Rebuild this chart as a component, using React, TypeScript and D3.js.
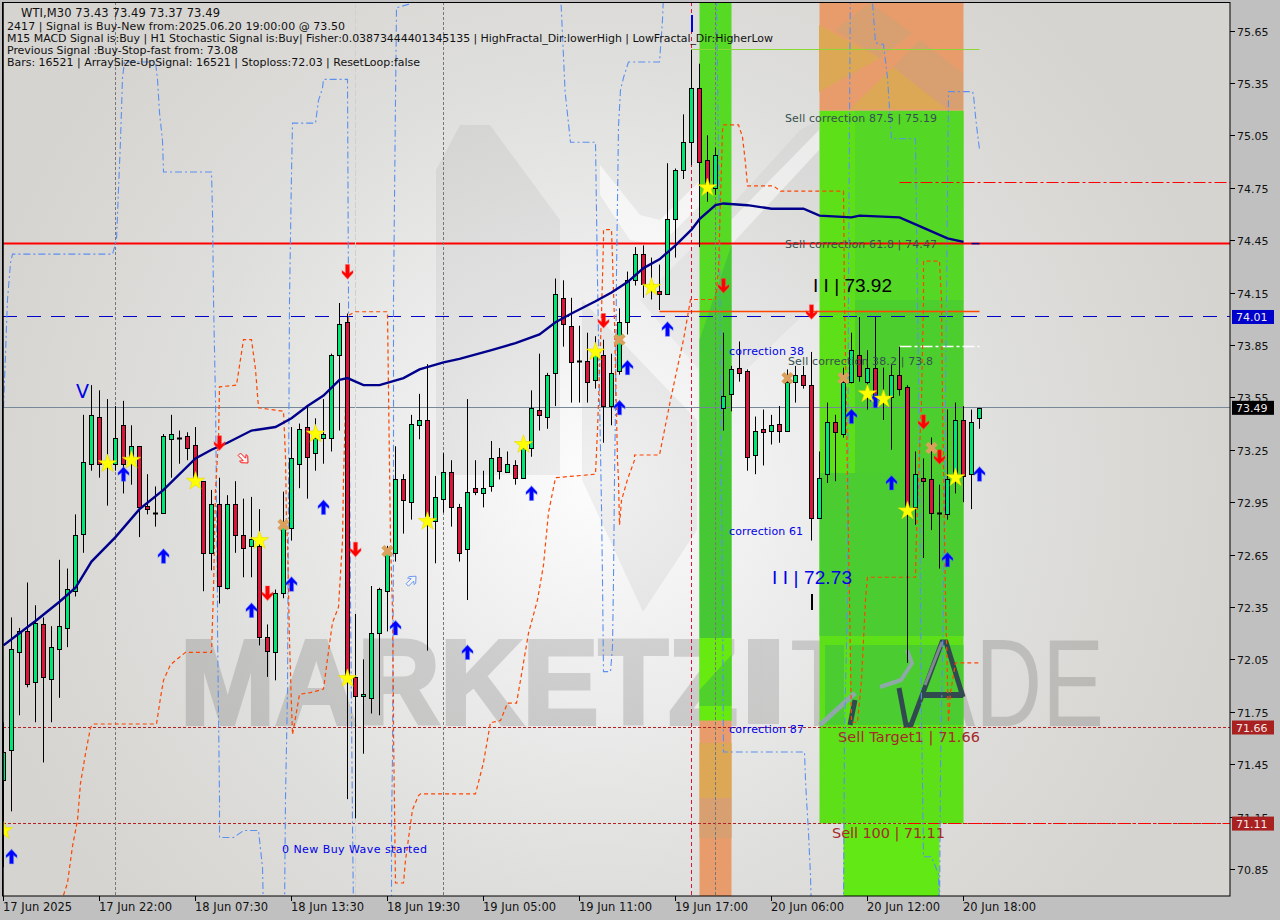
import * as d3 from "d3";

// candle data, one entry per M30 bar
const opens = [
	71.36, 71.53, 72.09, 72.21, 71.92, 72.25, 71.94, 72.11, 72.23, 72.44,
	72.77, 73.17, 73.44, 73.16, 73.17, 73.39, 73.19, 73.27, 72.93, 72.89,
	72.89, 73.31, 73.32, 73.33, 73.28, 73.07, 72.66, 72.94, 72.46, 72.94,
	72.76, 72.7, 72.7, 72.18, 72.09, 72.43, 72.8, 73.17, 73.38, 73.23,
	73.32, 73.32, 73.79, 73.98, 71.95, 71.84, 71.83, 72.2, 72.44, 72.66,
	73.08, 72.95, 73.39, 73.42, 72.84, 72.97, 73.12, 72.92, 72.68, 73.03,
	73.0, 73.04, 73.21, 73.12, 73.16, 73.09, 73.26, 73.48, 73.44, 73.69,
	74.12, 73.96, 73.76, 73.76, 73.65, 73.79, 73.5, 73.7, 73.98, 74.22,
	74.37, 74.17, 74.16, 74.14, 74.57, 74.85, 75.01, 75.32, 74.91, 74.75,
	73.49, 73.57, 73.72, 73.7, 73.22, 73.37, 73.36, 73.4, 73.36, 73.64,
	73.68, 73.62, 72.86, 73.11, 73.41, 73.34, 73.64, 73.79, 73.64, 73.72,
	73.54, 73.55, 73.68, 73.61, 72.92, 73.09, 73.08, 72.89, 72.88, 73.09,
	73.42, 73.11, 73.43,
];
const closes = [
	71.52, 72.11, 72.21, 71.91, 72.26, 71.95, 72.12, 72.24, 72.45, 72.76,
	73.18, 73.45, 73.17, 73.18, 73.32, 73.17, 73.27, 72.92, 72.91, 72.89,
	73.33, 73.34, 73.32, 73.26, 73.08, 72.66, 72.94, 72.47, 72.94, 72.76,
	72.69, 72.74, 72.18, 72.1, 72.43, 72.82, 73.2, 73.37, 73.21, 73.32,
	73.34, 73.79, 73.97, 71.94, 71.84, 71.85, 72.2, 72.45, 72.66, 73.08,
	72.96, 73.4, 73.42, 72.87, 72.98, 73.12, 72.92, 72.66, 73.01, 73.01,
	73.03, 73.2, 73.13, 73.17, 73.09, 73.26, 73.49, 73.45, 73.68, 74.14,
	73.97, 73.75, 73.76, 73.64, 73.81, 73.5, 73.69, 73.98, 74.22, 74.37,
	74.2, 74.2, 74.14, 74.57, 74.85, 75.01, 75.32, 74.9, 74.75, 74.94,
	73.56, 73.71, 73.69, 73.21, 73.36, 73.35, 73.39, 73.36, 73.64, 73.68,
	73.62, 72.86, 73.09, 73.41, 73.35, 73.64, 73.82, 73.67, 73.72, 73.56,
	73.55, 73.68, 73.6, 72.91, 73.11, 73.07, 72.89, 72.88, 73.08, 73.42,
	73.1, 73.41, 73.49,
];
const highs = [
	71.69, 72.29, 72.23, 72.49, 72.36, 72.29, 72.24, 72.62, 72.57, 72.88,
	73.45, 73.62, 73.59, 73.54, 73.5, 73.53, 73.39, 73.27, 73.11, 73.04,
	73.34, 73.45, 73.36, 73.35, 73.38, 73.07, 73.02, 73.09, 72.99, 73.07,
	72.97, 72.98, 72.91, 72.25, 72.45, 73.01, 73.38, 73.4, 73.5, 73.43,
	73.54, 73.8, 74.09, 74.03, 72.31, 72.05, 72.47, 72.46, 72.7, 73.27,
	73.11, 73.45, 73.57, 73.74, 73.1, 73.23, 73.19, 72.94, 73.54, 73.19,
	73.13, 73.3, 73.26, 73.24, 73.19, 73.31, 73.59, 73.8, 73.69, 74.23,
	74.22, 74.12, 73.96, 73.92, 73.9, 73.88, 73.8, 74.06, 74.27, 74.41,
	74.42, 74.35, 74.31, 74.89, 74.86, 75.17, 75.54, 75.46, 75.05, 74.98,
	73.92, 73.73, 73.87, 73.71, 73.44, 73.48, 73.45, 73.5, 73.71, 73.73,
	73.73, 73.81, 73.24, 73.52, 73.45, 73.72, 73.92, 74.01, 73.82, 74.01,
	73.72, 73.74, 73.84, 73.62, 73.24, 73.2, 73.32, 73.05, 73.48, 73.52,
	73.5, 73.48, 73.49,
];
const lows = [
	70.86, 71.18, 71.73, 71.89, 71.69, 71.46, 71.69, 71.83, 72.12, 72.41,
	72.66, 73.13, 73.09, 72.93, 73.13, 73.0, 73.05, 72.75, 72.88, 72.81,
	72.89, 73.09, 73.17, 73.19, 73.08, 72.44, 72.56, 72.37, 72.45, 72.66,
	72.52, 72.52, 72.13, 71.95, 71.93, 72.4, 72.73, 73.03, 72.97, 73.13,
	73.17, 73.24, 73.36, 71.25, 71.14, 71.51, 71.74, 71.73, 72.21, 72.61,
	72.77, 72.85, 73.31, 72.1, 72.6, 72.89, 72.81, 72.61, 72.39, 72.99,
	72.92, 73.01, 73.08, 73.12, 73.05, 73.09, 73.21, 73.36, 73.37, 73.5,
	73.84, 73.52, 73.52, 73.52, 73.6, 73.29, 73.39, 73.68, 73.91, 74.19,
	74.12, 74.11, 74.05, 74.14, 74.35, 74.8, 74.88, 74.41, 74.67, 74.71,
	73.36, 73.47, 73.64, 73.13, 73.11, 73.16, 73.28, 73.29, 73.36, 73.52,
	73.6, 72.73, 72.86, 73.06, 73.07, 73.32, 73.63, 73.64, 73.48, 73.54,
	73.42, 73.25, 73.56, 72.03, 72.82, 72.63, 72.79, 72.57, 72.85, 73.0,
	72.95, 72.91, 73.37,
];

// moving average, read at [bar, price]
const maLine: [number, number][] = [
	[0, 72.13], [4, 72.27], [7, 72.38], [9, 72.46], [11, 72.61], [14, 72.75], [17, 72.91],
	[20, 73.02], [24, 73.2], [26, 73.25], [28, 73.29], [31, 73.36], [34, 73.38], [36, 73.43],
	[38, 73.5], [40, 73.56], [42, 73.65], [43, 73.66], [45, 73.62], [47, 73.62], [50, 73.66],
	[52, 73.71], [55, 73.75], [57, 73.77], [61, 73.82], [64, 73.86], [67, 73.91], [69, 73.98],
	[71, 74.03], [74, 74.1], [76, 74.15], [78, 74.21], [80, 74.29], [82, 74.34], [84, 74.42],
	[86, 74.51], [87, 74.57], [89, 74.65], [90, 74.66], [93, 74.65], [96, 74.63], [99, 74.63],
	[100, 74.63], [102, 74.59], [106, 74.58], [107, 74.59], [112, 74.58], [114, 74.54],
	[118, 74.46], [120, 74.44],
];
const maStub: [number, number][] = [[121, 74.43], [122, 74.43]];

// blue stepped band, goes off the chart top and bottom
const upperBand: [number, number][] = [
	[0, 73.49], [0.5, 74.11], [0.875, 74.32], [1.125, 74.37], [13.625, 74.37], [14.125, 74.45],
	[14.375, 74.74], [14.625, 75.02], [14.875, 75.38], [15.125, 75.47], [19, 75.47], [19.25, 75.37],
	[19.5, 75.18], [19.875, 75.02], [20, 74.84], [26, 74.84], [26.125, 74.61], [26.25, 74.11],
	[26.5, 73.535], [26.75, 72.39], [26.75, 72.22], [26.875, 71.74], [27, 71.26], [27, 71.03],
	[28.75, 71.03], [30, 71.07], [31.875, 71.07], [32.375, 70.86], [32.5, 70.6], [35.125, 70.6],
	[35.25, 71.26], [35.5, 71.86], [35.75, 74.11], [36, 74.83], [36.125, 75.12], [39, 75.12],
	[39.375, 75.25], [39.875, 75.32], [40, 75.37], [43, 75.37], [43.125, 74.11], [43.375, 72.39],
	[43.625, 71.11], [43.75, 70.6], [48.5, 70.6], [48.5, 71.09], [48.625, 71.49], [48.75, 72.73],
	[48.75, 74.11], [49, 75.25], [49.125, 75.78], [50.625, 75.8], [51, 76], [69.5, 76], [70.2, 75.3],
	[70.875, 75.01], [74, 75.01], [74.25, 74.22], [74.75, 72.92], [74.875, 72.5], [75, 71.98],
	[75.875, 71.98], [76.125, 72.12], [76.25, 72.5], [76.375, 73.08], [76.5, 73.5], [76.625, 74.26],
	[76.875, 75.1], [77.125, 75.31], [77.5, 75.38], [78.125, 75.47], [82, 75.47], [82.375, 75.71],
	[82.625, 76], [89, 76], [89.125, 75.81], [89.5, 74.56], [89.625, 73.535], [89.875, 72.39],
	[90, 71.52], [100.125, 71.52], [100.25, 71.36], [100.375, 71.25], [100.625, 71.06],
	[100.875, 70.81], [101, 70.6], [105, 70.6], [105.125, 71.63], [105.5, 72.39], [105.625, 74.22],
	[105.875, 76], [108.5, 76], [108.625, 75.81], [109, 75.58], [110, 75.57], [110.5, 75.38],
	[111, 75.03], [114, 75.03], [114.25, 74.11], [114.5, 73.25], [114.625, 72.39], [114.75, 71.74],
	[115, 70.92], [116, 70.92], [116.875, 70.82], [117, 70.6], [117.125, 71.43], [117.5, 72.39],
	[117.875, 74.11], [118.125, 75.3], [121.125, 75.3], [121.25, 75.28], [121.5, 75.16],
	[121.75, 75.06], [122, 74.97],
];

// orange stepped band
const lowerBand: [number, number][] = [
	[7.5, 70.7], [8, 70.77], [8.625, 70.98], [9.25, 71.13], [9.625, 71.34], [10.25, 71.51],
	[10.875, 71.66], [11.25, 71.68], [19.125, 71.68], [19.625, 71.83], [20, 71.93], [20.875, 72.02],
	[22.75, 72.09], [26, 72.09], [26.25, 72.45], [26.5, 73.02], [26.875, 73.31], [27, 73.61],
	[29.125, 73.62], [30, 73.88], [31, 73.88], [31.5, 73.71], [31.875, 73.49], [35, 73.47],
	[35.25, 73.21], [35.375, 72.83], [35.5, 72.73], [35.75, 72.16], [36, 71.78], [36.125, 71.62],
	[36.25, 71.65], [37, 71.85], [38.375, 71.86], [40, 71.88], [40.375, 72.01], [40.875, 72.18],
	[41.125, 72.26], [41.875, 72.35], [42.375, 72.73], [42.5, 73.08], [42.75, 73.5], [43.125, 74.02],
	[44, 74.04], [48, 74.04], [48.125, 73.59], [48.375, 72.73], [48.625, 72.33], [48.75, 71.78],
	[48.75, 71.63], [49, 70.77], [50, 70.77], [50.25, 70.9], [51.125, 71.19], [51.875, 71.27],
	[52.125, 71.28], [59, 71.28], [60, 71.46], [60.875, 71.69], [61.125, 71.69], [62.125, 71.7],
	[63, 71.8], [64.125, 71.8], [64.625, 71.93], [65.625, 72.2], [66.75, 72.39], [67.5, 72.59],
	[68.125, 72.89], [69, 73.09], [74, 73.11], [74.25, 73.36], [74.75, 74.03], [75, 74.45],
	[75, 74.51], [76, 74.51], [76.125, 74.34], [76.375, 73.98], [76.75, 73.19], [76.875, 73.08],
	[77, 72.82], [77.25, 72.96], [78, 73.08], [78.875, 73.19], [78.875, 73.22], [82, 73.22],
	[83.375, 73.535], [84.375, 73.75], [85, 73.88], [85.875, 74.11], [86, 74.11], [89, 74.11],
	[89.375, 74.28], [89.625, 74.68], [89.875, 75.08], [90, 75.11], [91.875, 75.11], [92.375, 75.04],
	[92.75, 74.89], [93, 74.76], [96.25, 74.76], [97.125, 74.73], [105, 74.73], [105.125, 74.11],
	[105.75, 72.39], [106, 71.69], [106.75, 71.69], [107.25, 71.93], [107.75, 72.39], [108, 72.52],
	[114, 72.52], [114.125, 72.77], [114.75, 73.535], [115, 74.11], [115, 74.33], [117, 74.33],
	[117.25, 74.11], [117.375, 73.535], [117.75, 72.39], [118.125, 71.69], [118.375, 71.86],
	[119, 72.03], [122, 72.03],
];

// signal marks as [bar, price]
const buyArrows: [number, number][] = [
	[1, 70.92], [15, 73.11], [20, 72.64], [31, 72.33], [36, 72.48], [40, 72.92], [49, 72.23],
	[58, 72.09], [66, 73.0], [77, 73.49], [78, 73.72], [83, 73.94], [106, 73.44], [109, 73.53],
	[111, 73.06], [118, 72.62], [122, 73.11],
];
const sellArrows: [number, number][] = [
	[27, 73.29], [43, 74.27], [33, 72.43], [44, 72.68], [75, 73.99], [90, 74.19], [101, 74.04],
	[115, 73.41], [117, 73.21],
];
const stars: [number, number][] = [
	[0, 71.07], [13, 73.17], [16, 73.19], [24, 73.07], [32, 72.73], [39, 73.34], [43, 71.94],
	[53, 72.84], [65, 73.28], [74, 73.81], [81, 74.18], [88, 74.75], [108, 73.57], [110, 73.54],
	[113, 72.9], [119, 73.09],
];
const crosses: [number, number][] = [
	[35, 72.82], [48, 72.67], [77, 73.88], [98, 73.66], [105, 73.66], [116, 73.26],
];

const priceTicks = [
	"75.65", "75.35", "75.05", "74.75", "74.45", "74.15", "73.85", "73.55", "73.25",
	"72.95", "72.65", "72.35", "72.05", "71.75", "71.45", "71.15", "70.85",
];
const timeTicks = [
	"17 Jun 2025", "17 Jun 22:00", "18 Jun 07:30", "18 Jun 13:30", "18 Jun 19:30", "19 Jun 05:00",
	"19 Jun 11:00", "19 Jun 17:00", "20 Jun 06:00", "20 Jun 12:00", "20 Jun 18:00",
];
const headerLines = [
	"2417 | Signal is Buy-New from:2025.06.20 19:00:00 @ 73.50",
	"M15 MACD Signal is:Buy | H1 Stochastic Signal is:Buy| Fisher:0.03873444401345135 | HighFractal_Dir:lowerHigh | LowFractal_Dir:HigherLow",
	"Previous Signal :Buy-Stop-fast from: 73.08",
	"Bars: 16521 | ArraySize-UpSignal: 16521 | Stoploss:72.03 | ResetLoop:false",
];
const headerWidths = [338, 766, 231, 413];
const priceBadges: [string, number, string][] = [
	["74.01", 74.01, "#0000cd"],
	["73.49", 73.49, "#000000"],
	["71.66", 71.66, "#a82020"],
	["71.11", 71.11, "#a82020"],
];

const W = 1280;
const H = 920;
const left = 3;
const right = 1230;
const top = 2;
const bottom = 896;

const x = d3.scaleLinear().domain([0, 122]).range([3.5, 979.5]);
const y = d3.scaleLinear().domain([75.65, 70.85]).range([30.5, 869]);
// horizontal levels sit on whole pixels like the terminal draws them
const snapY = (p: number) => Math.floor(y(p)) + 0.5;

const pairLine = d3
	.line<[number, number]>()
	.x((d) => x(d[0]))
	.y((d) => y(d[1]));

const starPath = d3.symbol(d3.symbolStar, 105)() as string;
const crossPath = d3.symbol(d3.symbolCross, 95)() as string;
const arrowPath = "M0,-7.5 L5.5,-1.5 L5.5,1 L2,-1.5 L2,7 L-2,7 L-2,-1.5 L-5.5,1 L-5.5,-1.5Z";

const GREEN = "#00e676";
const RED = "#dc143c";
const LABEL_FONT = "'DejaVu Sans', sans-serif";
const BIG_FONT = "'Liberation Sans', sans-serif";
const BLUE_TEXT = "#0000e6";
const SLATE = "#36504f";
const BRICK = "#a52a2a";

const bandTop = y(75.19);
const bandBottom = y(71.11);
const fillTop = top;

function Background() {
	return (
		<g>
			<rect x={left} y={top} width={right - left} height={bottom - top} fill="url(#bg)" />
			{/* big check mark behind the candles */}
			<polygon points="436,170 460,125 490,125 560,220 560,475 436,475" fill="rgba(0,0,0,0.05)" />
			<polygon points="582,300 582,480 643,612 697,530 697,420" fill="rgba(0,0,0,0.05)" />
			<polygon points="640,300 700,240 800,130 819,120 819,300 720,395" fill="rgba(0,0,0,0.03)" />
			<polygon points="600,165 640,215 660,220 731,150 731,175 660,245 630,240 600,195" fill="rgba(255,255,255,0.6)" />
			<polygon points="731,220 819,130 819,150 731,245" fill="rgba(255,255,255,0.5)" />
			<g opacity={0.13}>
				<text x={180} y={724} fontFamily={BIG_FONT} fontWeight="bold" fontSize={120} fill="#000" stroke="#000" strokeWidth={4} textLength={558} lengthAdjust="spacingAndGlyphs">
					MARKETZ
				</text>
				<rect x={748} y={639} width={31} height={85} fill="#000" />
			</g>
			<text x={790} y={726} fontFamily={BIG_FONT} fontSize={124} fill="rgba(0,0,0,0.14)" textLength={314} lengthAdjust="spacingAndGlyphs">
				TRADE
			</text>
		</g>
	);
}

function Bands() {
	const x0 = x(87);
	const x1 = x(91);
	const bx0 = x(102);
	const bx1 = x(120);
	const ix0 = x(105);
	const ix1 = x(117);
	const bandW = x1 - x0;
	const bigW = bx1 - bx0;
	return (
		<g>
			{/* narrow band on the 19 Jun bars */}
			<rect x={x0} y={fillTop} width={bandW} height={y(71.7) - fillTop} fill="#57da24" />
			<polygon points={`${x0},340 ${x1},245 ${x1},638 ${x0},638`} fill="#46c734" />
			<rect x={x0} y={638} width={bandW} height={83} fill="#66ea10" />
			<polygon points={`${x0},690 ${x1},655 ${x1},706 ${x0},706`} fill="#4fd02a" />
			<rect x={x0} y={y(71.7)} width={bandW} height={bottom - y(71.7)} fill="#e89c6c" />
			<rect x={x0} y={743} width={bandW} height={55} fill="#dca855" />
			<rect x={x0} y={798} width={bandW} height={40} fill="#d8a070" />

			{/* wide band, orange over the top and green down to the sell 100 level */}
			<rect x={bx0} y={fillTop} width={bigW} height={bandTop - fillTop} fill="#e89c6c" />
			<polygon points="819,25 880,58 819,92" fill="#dca855" />
			<polygon points="893,67 850,109 947,109" fill="#dca855" />
			<polygon points="870,3 912,33 880,58 835,30" fill="#d8a070" />
			<polygon points="920,40 963,73 963,109 947,109 893,67" fill="#d8a070" />
			<rect x={bx0} y={bandTop} width={bigW} height={bandBottom - bandTop} fill="#5de018" />
			<rect x={855} y={bandTop} width={bx1 - 855} height={190} fill="#55d825" />
			<rect x={855} y={300} width={bx1 - 855} height={173} fill="#4ccf2e" />
			<rect x={bx0} y={473} width={bigW} height={163} fill="#4bcd32" />
			<rect x={825} y={645} width={19} height={80} fill="#4bcd32" />
			<rect x={850} y={645} width={bx1 - 850} height={80} fill="#4bcd32" />
			<rect x={ix0} y={bandBottom} width={ix1 - ix0} height={bottom - bandBottom} fill="#62e814" />
			{/* logo strokes that show through the wide band */}
			<polyline points="880,687 901,680 912,663 907,650" fill="none" stroke="#8fa8a8" strokeWidth={4} />
			<polyline points="820,725 855,693" fill="none" stroke="#8fa8a8" strokeWidth={5} />
			<polyline points="850,725 855,700" fill="none" stroke="#304a50" strokeWidth={5} />
			<polyline points="899,688 906,725 911,725 942,642 946,642 963,697" fill="none" stroke="#304a50" strokeWidth={5} />
			<line x1={921} x2={963} y1={695} y2={695} stroke="#304a50" strokeWidth={6} />
			<polyline points="925,685 942,642" fill="none" stroke="#808890" strokeWidth={3} />
		</g>
	);
}

function Candles() {
	return (
		<g>
			{opens.map((o, i) => {
				const c = closes[i];
				const cx = x(i);
				const bodyTop = Math.round(y(Math.max(o, c))) + 0.5;
				const bodyBot = Math.round(y(Math.min(o, c))) + 0.5;
				return (
					<g key={i}>
						<line x1={cx} x2={cx} y1={y(highs[i])} y2={y(lows[i])} stroke="#000" strokeWidth={1} />
						{bodyBot - bodyTop < 2 ? (
							<line x1={cx - 2.5} x2={cx + 2.5} y1={bodyTop} y2={bodyTop} stroke="#000" strokeWidth={2} />
						) : (
							<rect
								x={cx - 2}
								y={bodyTop}
								width={4}
								height={bodyBot - bodyTop}
								fill={c >= o ? GREEN : RED}
								stroke="#000"
								strokeWidth={1}
							/>
						)}
					</g>
				);
			})}
		</g>
	);
}

function Levels() {
	return (
		<g fill="none">
			<line x1={left} x2={right} y1={snapY(71.66)} y2={snapY(71.66)} stroke="#b22222" strokeDasharray="3 2" />
			<line x1={left} x2={right} y1={snapY(71.11)} y2={snapY(71.11)} stroke="#b22222" strokeDasharray="3 2" />
			<line x1={x(113)} x2={right} y1={snapY(71.11)} y2={snapY(71.11)} stroke="#ff0000" strokeDasharray="12 3 3 3" />
			<line x1={left} x2={right} y1={snapY(73.49)} y2={snapY(73.49)} stroke="#778899" strokeWidth={1} />
			<line x1={left} x2={right} y1={snapY(74.01)} y2={snapY(74.01)} stroke="#0000cd" strokeDasharray="14 10" />
			<line x1={left} x2={right} y1={y(74.43)} y2={y(74.43)} stroke="#ff0000" strokeWidth={2} />
			<line x1={x(112)} x2={right} y1={snapY(74.78)} y2={snapY(74.78)} stroke="#ff0000" strokeDasharray="12 3 3 3" />
			<line x1={x(82)} x2={x(122)} y1={snapY(74.04)} y2={snapY(74.04)} stroke="#ff4500" strokeWidth={1.5} />
			<line x1={x(86)} x2={x(122)} y1={snapY(75.54)} y2={snapY(75.54)} stroke="#8ad835" />
			<line x1={x(112)} x2={x(122)} y1={snapY(73.84)} y2={snapY(73.84)} stroke="#ffffff" strokeWidth={1.5} strokeDasharray="12 3 3 3" />
			{/* session separators */}
			<line x1={115.5} x2={115.5} y1={top} y2={bottom} stroke="#777" strokeDasharray="3 2" />
			<line x1={443.5} x2={443.5} y1={top} y2={bottom} stroke="#777" strokeDasharray="3 2" />
			<line x1={715.5} x2={715.5} y1={top} y2={bottom} stroke="#777" strokeDasharray="3 2" />
			<line x1={355.5} x2={355.5} y1={top} y2={bottom} stroke="#d0d0d0" strokeDasharray="6 2" />
			<line x1={x(86)} x2={x(86)} y1={top} y2={bottom} stroke="#dc143c" strokeDasharray="4 3" />
		</g>
	);
}

function Marks() {
	return (
		<g>
			{buyArrows.map((d, i) => (
				<path key={i} d={arrowPath} transform={`translate(${x(d[0])},${y(d[1])})`} fill="#0000ff" stroke="rgba(70,110,255,0.35)" strokeWidth={1.2} />
			))}
			{sellArrows.map((d, i) => (
				<path key={i} d={arrowPath} transform={`translate(${x(d[0])},${y(d[1])}) scale(1,-1)`} fill="#ff0000" stroke="rgba(255,80,80,0.35)" strokeWidth={1.2} />
			))}
			{crosses.map((d, i) => (
				<path key={i} d={crossPath} transform={`translate(${x(d[0])},${y(d[1])}) rotate(45)`} fill="#daa05c" />
			))}
			{stars.map((d, i) => (
				<path key={i} d={starPath} transform={`translate(${x(d[0])},${y(d[1])})`} fill="#ffff00" stroke="#e6d800" strokeWidth={0.6} />
			))}
			{/* hollow fractal arrows */}
			<path d={arrowPath} transform={`translate(${x(30)},${y(73.2)}) rotate(135) scale(0.85)`} fill="#f4f4f4" stroke="#ff0000" />
			<path d={arrowPath} transform={`translate(${x(51)},${y(72.5)}) rotate(45) scale(0.85)`} fill="#f4f4f4" stroke="#5b8ff0" />
		</g>
	);
}

function Notes() {
	const small = { fontFamily: LABEL_FONT, fontSize: 11 };
	return (
		<g>
			<text x={21} y={16.5} fontFamily={LABEL_FONT} fontSize={11.5} fill="#111" textLength={199}>WTI,M30  73.43 73.49 73.37 73.49</text>
			{headerLines.map((t, i) => (
				<text key={i} x={7} y={29.5 + i * 12} {...small} fill="#111" textLength={headerWidths[i]}>{t}</text>
			))}
			<text x={76} y={398} fontFamily={LABEL_FONT} fontSize={19} fill={BLUE_TEXT}>V</text>
			<line x1={692} x2={692} y1={15} y2={32} stroke={BLUE_TEXT} strokeWidth={2} />
			<text x={729} y={355} {...small} fill={BLUE_TEXT} textLength={75}>correction 38</text>
			<text x={729} y={535} {...small} fill={BLUE_TEXT} textLength={74}>correction 61</text>
			<text x={729} y={733} {...small} fill={BLUE_TEXT} textLength={75}>correction 87</text>
			<text x={282} y={853} {...small} fill={BLUE_TEXT} textLength={145}>0 New Buy Wave started</text>
			<text x={772} y={584} fontFamily={BIG_FONT} fontSize={19} fill={BLUE_TEXT} textLength={80}>I I | 72.73</text>
			<text x={813} y={292} fontFamily={BIG_FONT} fontSize={19} fill="#000" textLength={79}>I I | 73.92</text>
			<line x1={812} x2={812} y1={594} y2={610} stroke="#000" strokeWidth={2} />
			<text x={785} y={122} {...small} fill={SLATE} textLength={152}>Sell correction 87.5 | 75.19</text>
			<text x={785} y={248} {...small} fill={SLATE} textLength={152}>Sell correction 61.8 | 74.47</text>
			<text x={788} y={365} {...small} fill={SLATE} textLength={145}>Sell correction 38.2 | 73.8</text>
			<text x={838} y={742} fontFamily={LABEL_FONT} fontSize={14.5} fill={BRICK} textLength={142}>Sell Target1 | 71.66</text>
			<text x={832} y={838} fontFamily={LABEL_FONT} fontSize={14.5} fill={BRICK} textLength={113}>Sell 100 | 71.11</text>
		</g>
	);
}

function Axes() {
	return (
		<g>
			<rect x={right} y={0} width={W - right} height={H} fill="#c0c0c0" />
			<rect x={0} y={bottom} width={W} height={H - bottom} fill="#c0c0c0" />
			<rect x={0} y={0} width={2} height={H} fill="#c0c0c0" />
			<rect x={0} y={0} width={W} height={2} fill="#c0c0c0" />
			<rect x={2.5} y={2.5} width={right - 2.5} height={bottom - 2.5} fill="none" stroke="#000" />
			<line x1={3} x2={3} y1={top} y2={bottom} stroke="#000" strokeWidth={1.5} />
			{priceTicks.map((t) => (
				<g key={t} transform={`translate(${right},${Math.round(y(+t)) + 0.5})`}>
					<line x2={5} stroke="#000" />
					<text x={7} y={4.5} fontFamily={LABEL_FONT} fontSize={11} fill="#111">{t}</text>
				</g>
			))}
			{timeTicks.map((t, i) => (
				<g key={t} transform={`translate(${x(i * 12)},${bottom})`}>
					<line y2={5} stroke="#000" />
					<text x={-0.5} y={15} fontFamily={LABEL_FONT} fontSize={11.5} fill="#111">{t}</text>
				</g>
			))}
			{priceBadges.map(([t, v, c]) => (
				<g key={t} transform={`translate(${right + 2},${y(v)})`}>
					<rect y={-7} width={42} height={14} fill={c} />
					<text x={4} y={4.5} fontFamily={LABEL_FONT} fontSize={11} fill="#f0e8e8">{t}</text>
				</g>
			))}
		</g>
	);
}

export default function App() {
	return (
		<div style={{ position: "absolute", left: 0, top: 0 }}>
			<svg width={W} height={H} viewBox={`0 0 ${W} ${H}`} style={{ display: "block" }}>
				<defs>
					<radialGradient id="bg" gradientUnits="userSpaceOnUse" cx={600} cy={480} r={640}>
						<stop offset="0" stopColor="#fdfdfd" />
						<stop offset="0.3" stopColor="#eeeeee" />
						<stop offset="0.65" stopColor="#dededc" />
						<stop offset="1" stopColor="#d6d4d0" />
					</radialGradient>
					<clipPath id="plot">
						<rect x={left} y={top} width={right - left} height={bottom - top} />
					</clipPath>
				</defs>
				<g clipPath="url(#plot)">
					<Background />
					<Bands />
					<Levels />
					<path d={pairLine(upperBand) as string} fill="none" stroke="#5b8ff0" strokeWidth={1.1} strokeDasharray="7 3 2 3" />
					<path d={pairLine(lowerBand) as string} fill="none" stroke="#ff4500" strokeWidth={1.2} strokeDasharray="4 3" />
					<Candles />
					<path d={pairLine(maLine) as string} fill="none" stroke="#00008b" strokeWidth={2.4} />
					<path d={pairLine(maStub) as string} fill="none" stroke="#00008b" strokeWidth={1.5} />
					<Marks />
					<Notes />
				</g>
				<Axes />
			</svg>
		</div>
	);
}
